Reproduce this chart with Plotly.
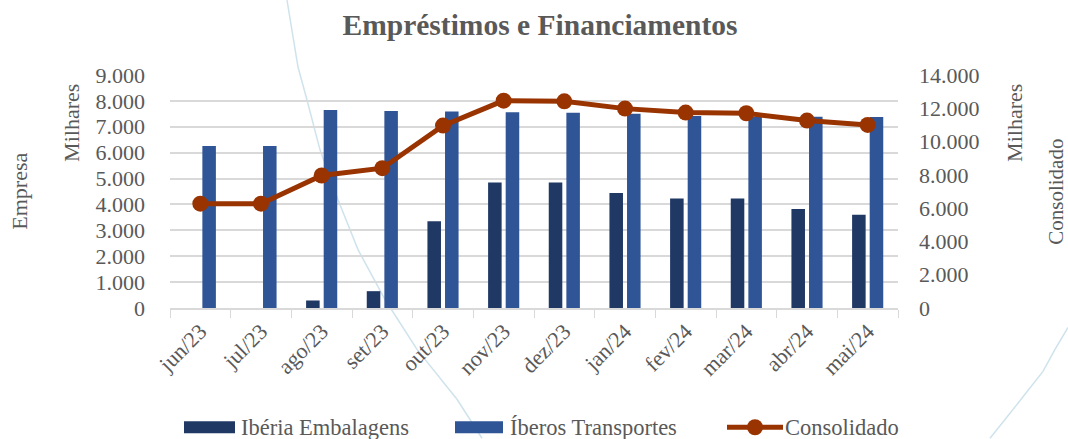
import plotly.graph_objects as go

categories = ["jun/23", "jul/23", "ago/23", "set/23", "out/23", "nov/23",
              "dez/23", "jan/24", "fev/24", "mar/24", "abr/24", "mai/24"]
iberia_embalagens = [0, 0, 290, 650, 3350, 4850, 4850, 4440, 4230, 4230, 3820, 3600]
iberos_transportes = [6260, 6260, 7650, 7610, 7590, 7560, 7540, 7500, 7420, 7390, 7390, 7380]
consolidado = [6270, 6270, 7960, 8400, 10960, 12460, 12420, 11980, 11740, 11700, 11260, 11000]

left_ticks = list(range(0, 9001, 1000))
right_ticks = list(range(0, 14001, 2000))

FONT = "Liberation Serif"
GREY = "#595959"
DARK = "#203864"
LIGHT = "#2F5597"
RUST = "#993300"
W, H = 1068, 439
L, R, T, B = 170, 170, 75, 130.5
PW, PH = W - L - R, H - T - B


def px(x):
    return (x - L) / PW


def py(y):
    return (H - B - y) / PH


fig = go.Figure()
fig.add_trace(go.Bar(x=categories, y=iberia_embalagens, name="Ibéria Embalagens",
                     marker=dict(color=DARK, line=dict(width=0))))
fig.add_trace(go.Bar(x=categories, y=iberos_transportes, name="Íberos Transportes",
                     marker=dict(color=LIGHT, line=dict(width=0))))
fig.add_trace(go.Scatter(x=categories, y=consolidado, name="Consolidado", yaxis="y2",
                         mode="lines+markers",
                         line=dict(color=RUST, width=5),
                         marker=dict(color=RUST, size=16)))

fig.update_layout(
    width=W, height=H, showlegend=False,
    paper_bgcolor="white", plot_bgcolor="white",
    separators=",.",
    font=dict(family=FONT, color=GREY, size=22),
    title=dict(text="<b>Empréstimos e Financiamentos</b>", x=540 / W, xanchor="center",
               y=1 - 25 / H, yanchor="middle", font=dict(size=29.5, color=GREY, family=FONT)),
    margin=dict(l=L, r=R, t=T, b=B, autoexpand=False),
    barmode="group", bargap=0.42, bargroupgap=0.23,
    xaxis=dict(range=[-0.5, len(categories) - 0.5],
               showgrid=False, showline=True, linecolor="#d9d9d9", linewidth=1.5,
               ticks="outside", tickson="boundaries", ticklen=8, tickcolor="#d9d9d9",
               tickangle=-45, tickfont=dict(size=22, color=GREY), automargin=False),
    yaxis=dict(range=[0, 9000], tickvals=left_ticks, tickformat=",d",
               showgrid=True, gridcolor="#d9d9d9", gridwidth=1.5, zeroline=False,
               tickfont=dict(size=22, color=GREY), ticks="", ticklabelstandoff=24,
               automargin=False),
    yaxis2=dict(range=[0, 14000], tickvals=right_ticks, tickformat=",d", overlaying="y",
                side="right", showgrid=False, zeroline=False,
                tickfont=dict(size=22, color=GREY), ticklabelstandoff=20,
                automargin=False),
)

for text, x, yc, fs in [("Milhares", 72, 123, 22), ("Empresa", 20, 192, 22),
                        ("Milhares", 1015, 123, 22), ("Consolidado", 1056, 192, 21)]:
    fig.add_annotation(text=text, x=px(x), y=py(yc), xref="paper", yref="paper",
                       showarrow=False, textangle=-90, xanchor="center", yanchor="middle",
                       font=dict(size=fs, color=GREY))

# legend drawn as shapes + text (Excel-style wide swatches)
LEG_Y = 428
for x0, x1, color, tx, label in [(184, 235, DARK, 239, "Ibéria Embalagens"),
                                 (455, 503, LIGHT, 508, "Íberos Transportes")]:
    fig.add_shape(type="rect", xref="paper", yref="paper",
                  x0=px(x0), x1=px(x1), y0=py(LEG_Y - 6), y1=py(LEG_Y + 6),
                  fillcolor=color, line=dict(width=0))
    fig.add_annotation(text=label, x=px(tx), y=py(LEG_Y), xref="paper", yref="paper",
                       showarrow=False, xanchor="left", yanchor="middle",
                       font=dict(size=22.5, color=GREY))
fig.add_shape(type="line", xref="paper", yref="paper",
              x0=px(727), x1=px(783), y0=py(LEG_Y), y1=py(LEG_Y),
              line=dict(color=RUST, width=5))
fig.add_shape(type="circle", xref="paper", yref="paper",
              x0=px(755 - 8), x1=px(755 + 8), y0=py(LEG_Y - 8), y1=py(LEG_Y + 8),
              fillcolor=RUST, line=dict(width=0))
fig.add_annotation(text="Consolidado", x=px(783), y=py(LEG_Y), xref="paper", yref="paper",
                   showarrow=False, xanchor="left", yanchor="middle",
                   font=dict(size=22.5, color=GREY))

# faint decorative background curves
curve1 = [(287, 0), (298, 67), (307, 100), (320, 150), (338, 200), (358, 250),
          (385, 300), (417, 350), (457, 400), (482, 439)]
curve2 = [(1068, 328), (1055, 350), (1043, 372), (1025, 395), (1010, 414), (990, 439)]
for pts in (curve1, curve2):
    path = "M " + " L ".join("%f,%f" % (px(x), py(y)) for x, y in pts)
    fig.add_shape(type="path", xref="paper", yref="paper", layer="below", path=path,
                  line=dict(color="#cfe3ec", width=1.5))

fig.write_html("out.html", config={"displayModeBar": False},
               post_script="document.body.style.margin='0';document.body.style.overflow='hidden';")
